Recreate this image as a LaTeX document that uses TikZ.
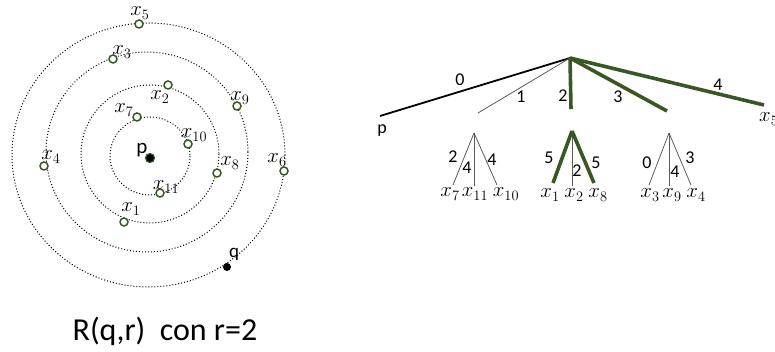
\documentclass[tikz,border=0pt]{standalone}
\usepackage{fontspec}
\setmainfont{Carlito}
\definecolor{dgreen}{RGB}{56,87,35}
\definecolor{thin}{RGB}{90,90,90}
\begin{document}
\begin{tikzpicture}[x=1pt,y=-1pt,
  ring/.style={dotted, line width=1pt},
  pt/.style={circle, draw=dgreen, line width=1.5pt, inner sep=0pt, minimum size=8pt, fill=white,
    path picture={\fill (path picture bounding box.center) circle (0.9pt);}},
  bpt/.style={circle, draw=dgreen, line width=1.2pt, fill=black, inner sep=0pt, minimum size=9pt},
  qpt/.style={circle, fill=black, inner sep=0pt, minimum size=8pt},
  lab/.style={inner sep=0pt, font=\fontsize{19.5}{22}\selectfont},
  num/.style={inner sep=0pt, font=\fontsize{18}{20}\selectfont},
  thinedge/.style={draw=thin, line width=0.8pt},
  thickedge/.style={draw=dgreen, line width=3.6pt},
  blackedge/.style={draw=black, line width=1.8pt}]
\useasboundingbox (0,0) rectangle (775,352);
% circles
\draw[ring] (150,156) ellipse (40 and 39);
\draw[ring] (150,154) ellipse (69 and 69);
\draw[ring] (147,152) ellipse (101 and 100);
\draw[ring] (148.5,155) ellipse (136.5 and 132);
% points
\node[pt] (x5) at (139,24) {};
\node[pt] (x3) at (113,59) {};
\node[pt] (x2) at (168,85) {};
\node[pt] (x9) at (237,106) {};
\node[pt] (x7) at (137,117) {};
\node[pt] (x10) at (188,144) {};
\node[bpt] (p) at (150,158) {};
\node[pt] (x4) at (44,166) {};
\node[pt] (x8) at (217,173) {};
\node[pt] (x6) at (284,171) {};
\node[pt] (x11) at (160,193) {};
\node[pt] (x1) at (124,222) {};
\node[qpt] (q) at (227,267) {};
% point labels
\node[lab] (lx5) at (140,13) {$x_5$};
\node[lab] (lx3) at (122,52) {$x_3$};
\node[lab] (lx2) at (160,97) {$x_2$};
\node[lab] (lx9) at (240,98) {$x_9$};
\node[lab] (lx7) at (124,110) {$x_7$};
\node[lab] (lx10) at (194,135) {$x_{10}$};
\node[inner sep=0pt, font=\fontsize{21}{24}\selectfont] (lp) at (142,150) {p};
\node[lab] (lx4) at (51,157) {$x_4$};
\node[lab] (lx8) at (230,163) {$x_8$};
\node[lab] (lx6) at (277,160) {$x_6$};
\node[lab] (lx11) at (166,187) {$x_{11}$};
\node[lab] (lx1) at (131,209) {$x_1$};
\node[inner sep=0pt, font=\fontsize{19}{22}\selectfont] (lq) at (234,254) {q};
\node[inner sep=0pt, font=\fontsize{32}{36}\selectfont] (title) at (165,331) {R(q,r)\ \ con r=2};
% tree
\coordinate (root) at (570,58);
\coordinate (e0) at (380,116);
\coordinate (e1) at (478,113);
\coordinate (e2) at (571,109);
\coordinate (e3) at (667,111);
\coordinate (e4) at (764,105);
\draw[blackedge] (root) -- (e0);
\draw[thinedge] (root) -- (e1);
\draw[thickedge] (root) -- (e2);
\draw[thickedge] (root) -- (e3);
\draw[thickedge] (root) -- (e4);
\node[num] (n0) at (460,80) {0};
\node[num] (n1) at (521,97) {1};
\node[num] (n2) at (563,96) {2};
\node[num] (n3) at (618,97) {3};
\node[num] (n4) at (718,85) {4};
\node[num] (tp) at (382,131) {p};
\node[lab, anchor=west] (tx5) at (759,119) {$x_5$};
% subtree 1
\coordinate (a1) at (474,133);
\coordinate (l7) at (453,185);
\coordinate (l11) at (474,186);
\coordinate (l10) at (497,185);
\draw[thinedge] (a1) -- (l7);
\draw[thinedge] (a1) -- (l11);
\draw[thinedge] (a1) -- (l10);
\node[num] at (453,157) {2};
\node[num] at (467,168) {4};
\node[num] at (492,160) {4};
\node[lab] at (450,194) {$x_7$};
\node[lab] at (475,194) {$x_{11}$};
\node[lab] at (506,194) {$x_{10}$};
% subtree 2
\coordinate (a2) at (572,131);
\coordinate (l1) at (553,183);
\coordinate (l2) at (572,186);
\coordinate (l8) at (594,183);
\draw[thickedge] (a2) -- (l1);
\draw[thinedge] (a2) -- (l2);
\draw[thickedge] (a2) -- (l8);
\node[num] at (549,158) {5};
\node[num] at (577,171) {2};
\node[num] at (596,163) {5};
\node[lab] at (550,195) {$x_1$};
\node[lab] at (574,195) {$x_2$};
\node[lab] at (598,195) {$x_8$};
% subtree 3
\coordinate (a3) at (669,133);
\coordinate (l3) at (649,185);
\coordinate (l9) at (669,186);
\coordinate (l4) at (691,185);
\draw[thinedge] (a3) -- (l3);
\draw[thinedge] (a3) -- (l9);
\draw[thinedge] (a3) -- (l4);
\node[num] at (647,163) {0};
\node[num] at (675,172) {4};
\node[num] at (690,158) {3};
\node[lab] at (650,195) {$x_3$};
\node[lab] at (672,195) {$x_9$};
\node[lab] at (696,195) {$x_4$};
\end{tikzpicture}
\end{document}
